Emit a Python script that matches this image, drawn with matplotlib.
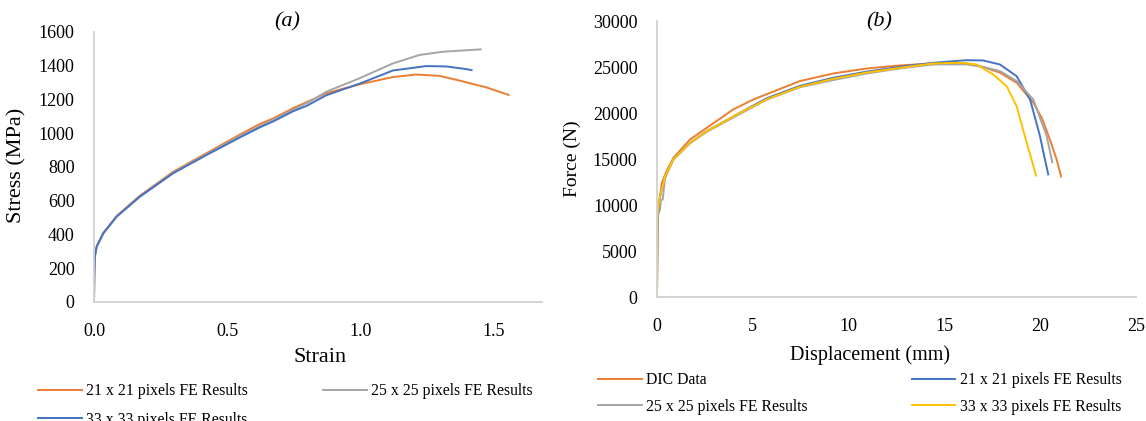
import numpy as np
import matplotlib
matplotlib.use('Agg')
import matplotlib.pyplot as plt

plt.rcParams['font.family'] = ['Liberation Serif', 'DejaVu Serif']

# (a) истинные напряжения - деформации для трёх размеров подмножества
strain_21 = [0, 0.001, 0.003, 0.01, 0.035, 0.085, 0.172, 0.297, 0.422, 0.547, 0.622, 0.672,
             0.746, 0.871, 0.996, 1.121, 1.209, 1.296, 1.371, 1.471, 1.555]
stress_21 = [0, 150, 268, 330, 410, 510, 630, 772, 882, 992, 1055, 1088,
             1148, 1237, 1290, 1333, 1348, 1340, 1312, 1272, 1227]

strain_25 = [0, 0.001, 0.003, 0.01, 0.035, 0.085, 0.172, 0.297, 0.422, 0.547, 0.672,
             0.809, 0.871, 0.996, 1.121, 1.221, 1.308, 1.408, 1.45]
stress_25 = [0, 150, 268, 328, 408, 507, 626, 766, 875, 983, 1080,
             1187, 1246, 1326, 1414, 1464, 1483, 1493, 1497]

strain_33 = [0, 0.001, 0.003, 0.01, 0.035, 0.085, 0.172, 0.297, 0.422, 0.547, 0.622, 0.672,
             0.746, 0.797, 0.871, 0.996, 1.121, 1.246, 1.321, 1.396, 1.416]
stress_33 = [0, 150, 268, 328, 407, 506, 624, 763, 871, 975, 1035, 1070,
             1130, 1162, 1225, 1294, 1372, 1398, 1396, 1380, 1374]

# (b) сила - перемещение: DIC и КЭ
disp_dic = [0, 0.01, 0.04, 0.07, 0.16, 0.25, 0.5, 0.85, 1.72, 2.59, 3.98, 5.03, 5.73, 7.46,
            9.2, 10.95, 12.68, 14.42, 15.3, 16.16, 17.03, 17.9, 18.77, 19.64, 20.1, 20.51,
            20.85, 21.09]
force_dic = [0, 3000, 7500, 9500, 11000, 12400, 13700, 15100, 17120, 18380, 20390, 21470,
             22050, 23470, 24300, 24840, 25170, 25390, 25420, 25390, 25000, 24380, 23290,
             21120, 19400, 17100, 15000, 13100]

disp_21 = [0, 0.01, 0.03, 0.16, 0.42, 0.85, 1.72, 2.59, 4.33, 5.73, 7.46, 9.2, 10.95, 12.68,
           14.42, 16.16, 17.03, 17.9, 18.77, 19.47, 19.99, 20.2, 20.42]
force_21 = [0, 4000, 9000, 10900, 13100, 14950, 16760, 18020, 20020, 21600, 22950, 23830,
            24500, 25020, 25460, 25740, 25710, 25270, 24000, 21470, 17480, 15400, 13320]

disp_25 = [0, 0.01, 0.03, 0.16, 0.2, 0.3, 0.42, 0.85, 1.72, 2.59, 4.33, 5.73, 7.46, 9.2,
           10.95, 12.68, 14.42, 16.16, 17.03, 17.9, 18.77, 19.64, 20.34, 20.63]
force_25 = [0, 4000, 8800, 9500, 10500, 10600, 12900, 14900, 16700, 17950, 19900, 21450,
            22800, 23580, 24300, 24840, 25280, 25280, 25000, 24560, 23470, 21470, 17480, 14650]

disp_33 = [0, 0.01, 0.02, 0.16, 0.42, 0.85, 1.72, 2.59, 4.33, 5.38, 5.73, 7.46, 9.2, 10.95,
           12.68, 14.42, 15.81, 16.68, 17.55, 18.25, 18.77, 19.2, 19.5, 19.78]
force_33 = [0, 4000, 9150, 10960, 13130, 14950, 16760, 18020, 20020, 21110, 21500, 22850,
            23720, 24400, 24910, 25390, 25460, 25280, 24170, 22910, 20740, 17480, 15300, 13200]

labels_a = ['21 x 21 pixels FE Results', '25 x 25 pixels FE Results', '33 x 33 pixels FE Results']
labels_b = ['DIC Data', '21 x 21 pixels FE Results', '25 x 25 pixels FE Results',
            '33 x 33 pixels FE Results']

ORANGE, GRAY, BLUE, YELLOW = '#ED7D31', '#A5A5A5', '#4472C4', '#FFC000'
AXIS = '#D0D0D0'
W, H = 1146, 421

fig = plt.figure(figsize=(W / 100, H / 100), dpi=100)
ax_a = fig.add_axes([94 / W, 1 - 302 / H, (542 - 94) / W, (302 - 32) / H])
ax_b = fig.add_axes([657 / W, 1 - 297 / H, (1136 - 657) / W, (297 - 21) / H])


def style_axes(ax):
    for side in ('top', 'right'):
        ax.spines[side].set_visible(False)
    for side in ('left', 'bottom'):
        ax.spines[side].set_color(AXIS)
        ax.spines[side].set_linewidth(1.3)
    ax.tick_params(length=0, labelsize=13, colors='black')
    ax.tick_params(axis='y', pad=14)
    ax.tick_params(axis='x', pad=15)


lw = 1.4
la1, = ax_a.plot(strain_21, stress_21, color=ORANGE, lw=lw, label=labels_a[0])
la2, = ax_a.plot(strain_25, stress_25, color=GRAY, lw=lw, label=labels_a[1])
la3, = ax_a.plot(strain_33, stress_33, color=BLUE, lw=lw, label=labels_a[2])
ax_a.set_xlim(0, 1.68)
ax_a.set_ylim(0, 1600)
ax_a.set_xticks([0, 0.5, 1.0, 1.5])
ax_a.set_xticklabels(['0.0', '0.5', '1.0', '1.5'])
ax_a.set_yticks(np.arange(0, 1601, 200))
style_axes(ax_a)

lb1, = ax_b.plot(disp_dic, force_dic, color=ORANGE, lw=lw, label=labels_b[0])
lb2, = ax_b.plot(disp_21, force_21, color=BLUE, lw=lw, label=labels_b[1])
lb3, = ax_b.plot(disp_25, force_25, color=GRAY, lw=lw, label=labels_b[2])
lb4, = ax_b.plot(disp_33, force_33, color=YELLOW, lw=lw, label=labels_b[3])
ax_b.set_xlim(0, 25)
ax_b.set_ylim(0, 30000)
ax_b.set_xticks(np.arange(0, 26, 5))
ax_b.set_yticks(np.arange(0, 30001, 5000))
style_axes(ax_b)

# подписи осей и заголовки
fig.text(17 / W, 1 - 165 / H, 'Stress (MPa)', rotation=90, fontsize=16, ha='center', va='center')
fig.text(320 / W, 1 - 358 / H, 'Strain', fontsize=16, ha='center', va='center')
fig.text(572 / W, 1 - 159 / H, 'Force (N)', rotation=90, fontsize=14, ha='center', va='center')
fig.text(870 / W, 1 - 355 / H, 'Displacement (mm)', fontsize=14.5, ha='center', va='center')
fig.text(287 / W, 1 - 22 / H, '(a)', fontsize=16, style='italic', ha='center', va='center')
fig.text(879 / W, 1 - 22 / H, '(b)', fontsize=16, style='italic', ha='center', va='center')

# легенды (порядок по столбцам, чтобы строки шли как в Excel)
leg_kw = dict(ncol=2, frameon=False, fontsize=11.3, handlelength=2.8, handletextpad=0.28,
              borderpad=0, borderaxespad=0, loc='upper left')
fig.legend([la1, la3, la2], [labels_a[0], labels_a[2], labels_a[1]],
           bbox_to_anchor=(38 / W, 1 - 383 / H), columnspacing=4.75, labelspacing=0.8, **leg_kw)
fig.legend([lb1, lb3, lb2, lb4], [labels_b[0], labels_b[2], labels_b[1], labels_b[3]],
           bbox_to_anchor=(598 / W, 1 - 372 / H), columnspacing=6.6, labelspacing=0.68, **leg_kw)

fig.savefig('out.png', dpi=100)
